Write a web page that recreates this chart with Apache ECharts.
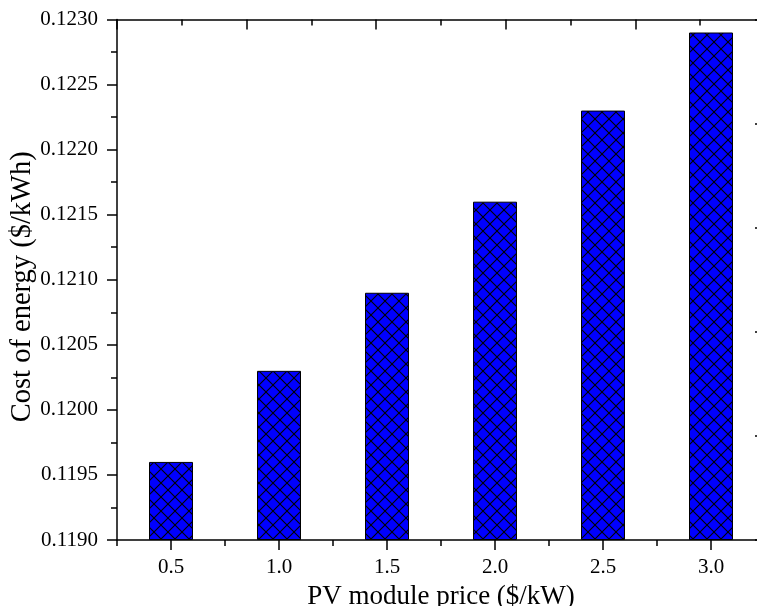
<!DOCTYPE html>
<html>
<head>
<meta charset="utf-8">
<script src="https://cdn.jsdelivr.net/npm/echarts@6/dist/echarts.min.js"></script>
<style>html,body{margin:0;padding:0;background:#fff;}#c{width:757px;height:606px;}</style>
</head>
<body>
<div id="c"></div>
<script>
const categories = ['0.5', '1.0', '1.5', '2.0', '2.5', '3.0'];
const costValues = [0.1196, 0.1203, 0.1209, 0.1216, 0.1223, 0.1229];
const yMin = 0.1190, yMax = 0.1230, yStep = 0.0005;
const xTitle = 'PV module price ($/kW)';
const yTitle = 'Cost of energy ($/kWh)';

function hatch() {
  const s = 14;
  const c = document.createElement('canvas');
  c.width = s; c.height = s;
  const g = c.getContext('2d');
  g.fillStyle = '#0000FF';
  g.fillRect(0, 0, s, s);
  g.strokeStyle = '#000';
  g.lineWidth = 1.1;
  g.beginPath();
  g.moveTo(-2, -2); g.lineTo(s + 2, s + 2);
  g.stroke();
  g.beginPath();
  g.moveTo(s + 2, -2); g.lineTo(-2, s + 2);
  g.stroke();
  return c;
}

const font = 'Liberation Serif';
const lineStyle = { color: '#000', width: 1.5 };
const chart = echarts.init(document.getElementById('c'));
chart.setOption({
  animation: false,
  backgroundColor: '#fff',
  grid: { left: 117, top: 19.5, right: -8, bottom: 66, containLabel: false, outerBoundsMode: 'none' },
  xAxis: [
    {
      type: 'category', data: categories, position: 'bottom',
      axisLine: { show: true, onZero: false, lineStyle },
      axisTick: { show: true, alignWithLabel: true, length: 10, inside: false, lineStyle },
      axisLabel: { show: true, interval: 0, margin: 17, fontFamily: font, fontSize: 21, color: '#000' },
      splitLine: { show: false },
      name: xTitle, nameLocation: 'middle', nameGap: 43, nameMoveOverlap: false,
      nameTextStyle: { fontFamily: font, fontSize: 27, color: '#000' }
    },
    {
      type: 'category', data: categories, position: 'bottom',
      axisLine: { show: false, onZero: false },
      axisTick: { show: true, length: 6, inside: false, lineStyle },
      axisLabel: { show: false }, splitLine: { show: false }
    },
    {
      type: 'value', position: 'top', min: 0, max: 5, interval: 1,
      axisLine: { show: true, onZero: false, lineStyle },
      axisTick: { show: true, inside: true, length: 10, lineStyle },
      minorTick: { show: true, splitNumber: 2, length: 6, lineStyle },
      axisLabel: { show: false }, splitLine: { show: false }, minorSplitLine: { show: false }
    }
  ],
  yAxis: [
    {
      type: 'value', position: 'left', min: yMin, max: yMax, interval: yStep, startValue: yMin,
      axisLine: { show: true, onZero: false, lineStyle },
      axisTick: { show: true, inside: false, length: 10, lineStyle },
      minorTick: { show: true, splitNumber: 2, length: 6, lineStyle },
      axisLabel: { show: true, margin: 19, fontFamily: font, fontSize: 21, color: '#000',
        formatter: v => Number(v).toFixed(4) },
      splitLine: { show: false }, minorSplitLine: { show: false },
      name: yTitle, nameLocation: 'middle', nameGap: 80, nameRotate: 90, nameMoveOverlap: false,
      nameTextStyle: { fontFamily: font, fontSize: 28.5, color: '#000', padding: [0, 14, 0, 0] }
    },
    {
      type: 'value', position: 'right', min: 0, max: 5, interval: 1,
      axisLine: { show: true, onZero: false, lineStyle },
      axisTick: { show: true, inside: true, length: 10, lineStyle },
      axisLabel: { show: false }, splitLine: { show: false }
    }
  ],
  series: [{
    type: 'bar', xAxisIndex: 0, yAxisIndex: 0,
    data: costValues, barWidth: 44,
    itemStyle: { color: { image: hatch(), repeat: 'repeat' }, borderColor: '#000', borderWidth: 1 }
  }]
});
</script>
</body>
</html>
